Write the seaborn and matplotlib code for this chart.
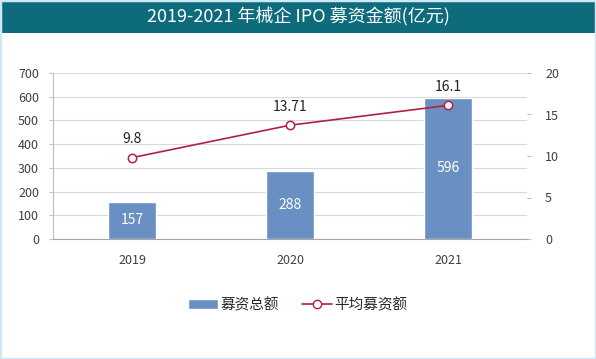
import matplotlib
matplotlib.use("Agg")
import matplotlib.pyplot as plt
import seaborn as sns
import pandas as pd
from matplotlib.patches import Rectangle
from matplotlib.lines import Line2D

# data
years = ["2019", "2020", "2021"]
total_raised = [157, 288, 596]
avg_raised = [9.8, 13.71, 16.1]
avg_labels = ["9.8", "13.71", "16.1"]

bar_color = "#6a8fc3"
line_color = "#b3203f"
title_color = "#0e6b7b"

sns.set_style("white")
plt.rcParams['font.family'] = ['Noto Sans CJK SC', 'DejaVu Sans']

df = pd.DataFrame({"year": years, "total": total_raised, "avg": avg_raised})

fig = plt.figure(figsize=(5.96, 3.59), dpi=100)
# title band
fig.patches.append(Rectangle((0, 1 - 33 / 359), 1, 33 / 359, transform=fig.transFigure,
                             facecolor=title_color, edgecolor="none", zorder=0))
# thin light frame
fig.patches.append(Rectangle((0, 0), 1, 1, transform=fig.transFigure, fill=False,
                             edgecolor="#cfe8f7", linewidth=2.5, zorder=0))
fig.text(0.5, 1 - 17 / 359, "2019-2021 年械企 IPO 募资金额(亿元)", color="white",
         ha="center", va="center", fontsize=13)

ax = fig.add_axes([53 / 596, 1 - 239 / 359, 474 / 596, 166 / 359])
sns.barplot(data=df, x="year", y="total", color=bar_color, width=0.31,
            saturation=1, ax=ax, zorder=2)
ax.set_xlim(-0.5, 2.5)
ax.set_ylim(0, 700)
ax.set_yticks(range(0, 701, 100))
ax.yaxis.grid(True, color="#d9d9d9", linewidth=0.8, zorder=0)
ax.set_axisbelow(True)
ax.set_xlabel("")
ax.set_ylabel("")
for s in ["top", "right"]:
    ax.spines[s].set_visible(False)
ax.spines["left"].set_color("#bfbfbf")
ax.spines["bottom"].set_color("#a6a6a6")
ax.tick_params(axis="y", labelsize=9, colors="#404040", length=3, pad=7, color="#bfbfbf")
ax.tick_params(axis="x", labelsize=9, colors="#404040", length=0, pad=11)

for i, v in enumerate(total_raised):
    ax.text(i, v / 2, str(v), ha="center", va="center", color="white", fontsize=10, zorder=5)

ax2 = ax.twinx()
sns.lineplot(x=[0, 1, 2], y=avg_raised, ax=ax2, color=line_color, linewidth=1.2,
             marker="o", markersize=6, markerfacecolor="white",
             markeredgecolor=line_color, markeredgewidth=1.1, zorder=4)
ax2.set_ylim(0, 20)
ax2.set_yticks(range(0, 21, 5))
for s in ["top", "right", "left", "bottom"]:
    ax2.spines[s].set_visible(False)
ax2.tick_params(axis="y", labelsize=9, colors="#404040", length=3, pad=10, color="#bfbfbf")
for i, (v, lab) in enumerate(zip(avg_raised, avg_labels)):
    ax2.text(i, v + 1.4, lab, ha="center", va="bottom", color="#222222", fontsize=10)

handles = [Rectangle((0, 0), 1, 1, facecolor=bar_color),
           Line2D([0], [0], color=line_color, linewidth=1.2, marker="o", markersize=6,
                  markerfacecolor="white", markeredgecolor=line_color)]
fig.legend(handles, ["募资总额", "平均募资额"], loc="center", bbox_to_anchor=(0.5, 1 - 305 / 359),
           ncol=2, frameon=False, fontsize=10.5, handlelength=2.0, columnspacing=1.6,
           handletextpad=0.2)

fig.savefig("out.png", dpi=100)
